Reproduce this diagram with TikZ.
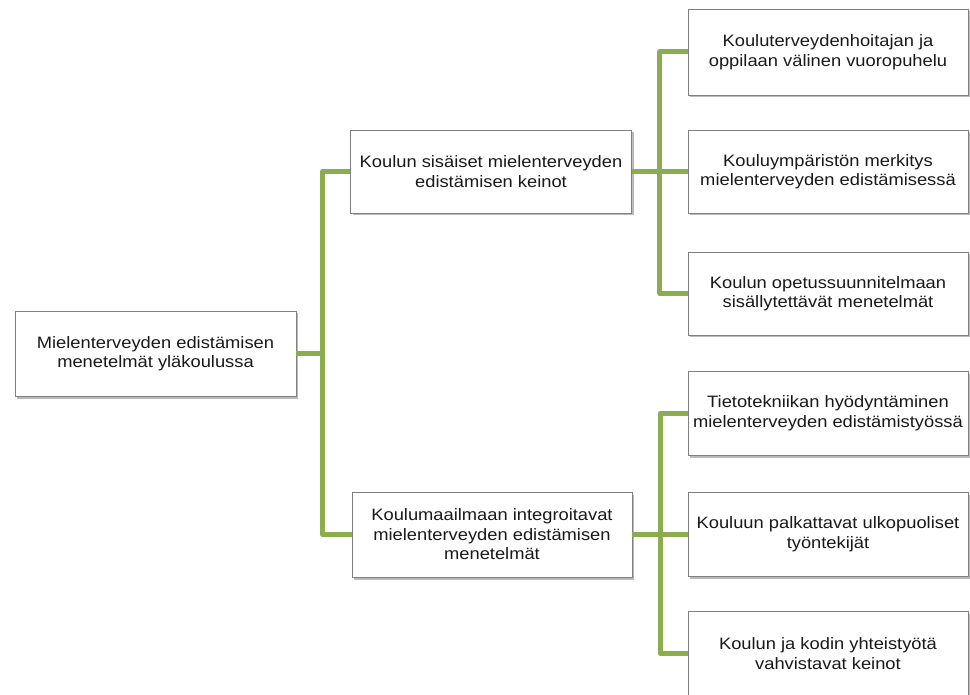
\documentclass[tikz,border=0pt]{standalone}
\usepackage{fontspec}
\setmainfont[FakeStretch=1.11]{Liberation Sans}
\usetikzlibrary{shadows}
\definecolor{conngreen}{RGB}{139,173,80}
\definecolor{boxborder}{RGB}{128,128,128}
\tikzset{
  box/.style={draw=boxborder, line width=0.9pt, fill=white, minimum width=281pt, minimum height=85pt,
    align=center, inner sep=0pt, font=\fontsize{16.5pt}{19.5pt}\selectfont, text=black!90,
    drop shadow={shadow xshift=2pt, shadow yshift=-2.5pt, opacity=0.45, fill=black!60}},
  conn/.style={draw=conngreen, line width=5pt, line join=round, line cap=butt}
}
\begin{document}
\begin{tikzpicture}[x=1pt,y=1pt]
\useasboundingbox (0,0) rectangle (970,-695);
\node[box] (root) at (155.5,-353.5) {Mielenterveyden edistämisen\\menetelmät yläkoulussa};
\node[box, minimum height=83pt] (m1) at (491,-171.5) {Koulun sisäiset mielenterveyden\\edistämisen keinot};
\node[box, minimum width=280pt] (m2) at (492,-534.5) {Koulumaailmaan integroitavat\\mielenterveyden edistämisen\\menetelmät};
\node[box, minimum width=280pt, minimum height=86pt] (r1) at (828,-52) {Kouluterveydenhoitajan ja\\oppilaan välinen vuoropuhelu};
\node[box, minimum width=280pt, minimum height=83pt] (r2) at (828,-171.5) {Kouluympäristön merkitys\\mielenterveyden edistämisessä};
\node[box, minimum width=280pt, minimum height=83pt] (r3) at (828,-293.5) {Koulun opetussuunnitelmaan\\sisällytettävät menetelmät};
\node[box, minimum width=280pt, minimum height=84pt] (r4) at (828,-413) {Tietotekniikan hyödyntäminen\\mielenterveyden edistämistyössä};
\node[box, minimum width=280pt, minimum height=84pt] (r5) at (828,-534) {Kouluun palkattavat ulkopuoliset\\työntekijät};
\node[box, minimum width=280pt, minimum height=84pt] (r6) at (828,-653.5) {Koulun ja kodin yhteistyötä\\vahvistavat keinot};
% connectors
\draw[conn] (root.east) -- ++(26,0) |- (m1.west);
\draw[conn] (root.east) -- ++(26,0) |- (m2.west);
\draw[conn] (m1.east) -- ++(28,0) |- (r1.west);
\draw[conn] (m1.east) -- (r2.west);
\draw[conn] (m1.east) -- ++(28,0) |- (r3.west);
\draw[conn] (m2.east) -- ++(28,0) |- (r4.west);
\draw[conn] (m2.east) -- ++(28,0) |- (r5.west);
\draw[conn] (m2.east) -- ++(28,0) |- (r6.west);
\end{tikzpicture}
\end{document}
